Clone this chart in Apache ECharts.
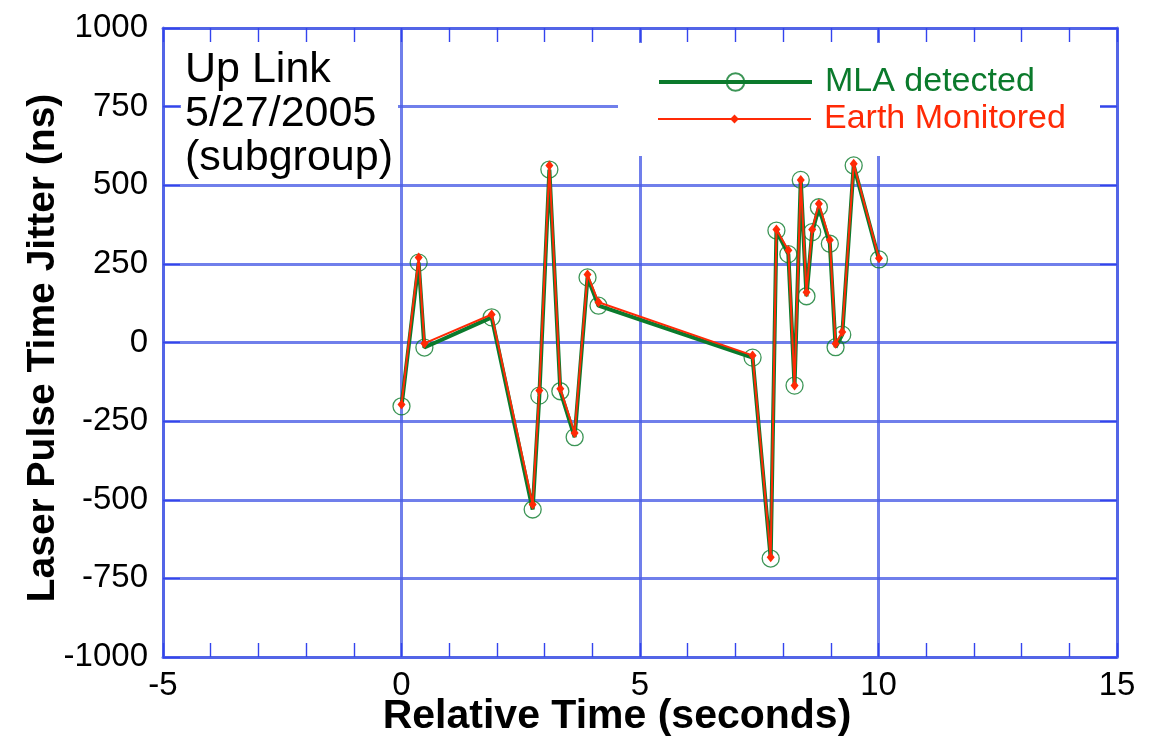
<!DOCTYPE html>
<html>
<head>
<meta charset="utf-8">
<script src="https://cdn.jsdelivr.net/npm/echarts@6/dist/echarts.min.js"></script>
<style>
  html, body { margin: 0; padding: 0; background: #fff; }
  #chart { width: 1163px; height: 747px; }
</style>
</head>
<body>
<div id="chart"></div>
<script>
// Relative time of each pulse (seconds)
const timeSec = [0, 0.36, 0.48, 1.89, 2.75, 2.89, 3.10, 3.33, 3.63, 3.90, 4.13,
  7.36, 7.74, 7.86, 8.11, 8.24, 8.37, 8.49, 8.61, 8.75, 8.98, 9.10, 9.24, 9.48, 10.01];
// Pulse time jitter seen by MLA (ns)
const mlaDetected = [-203, 254, -16, 80, -531, -169, 550, -155, -301, 207, 117,
  -48, -687, 356, 281, -137, 517, 147, 351, 430, 314, -15, 25, 563, 264];
// Pulse time jitter monitored at the ground station (ns)
const earthMonitored = [-197, 270, -3, 89, -515, -153, 563, -147, -288, 216, 128,
  -41, -683, 359, 293, -137, 517, 160, 359, 441, 326, -4, 33, 568, 268];

const xTicks = { min: -5, max: 15, step: 5 };
const yTicks = { min: -1000, max: 1000, step: 250 };
const seriesNames = ['MLA detected', 'Earth Monitored'];
const noteLines = ['Up Link', '5/27/2005', '(subgroup)'];
const xTitle = 'Relative Time (seconds)';
const yTitle = 'Laser Pulse Time Jitter (ns)';

const GREEN = '#0b7a2c';
const RED = '#ff2a06';
const BLUE = '#4c5fe6';
const FONT = '"Liberation Sans", Arial, Helvetica, sans-serif';

const gridLine = { color: BLUE, width: 3, type: 'solid', opacity: 0.8 };
const tickLine = { color: '#3344ee', width: 1.4 };

const pair = (xs, ys) => xs.map((x, i) => [x, ys[i]]);
const plain = v => String(v);

const chart = echarts.init(document.getElementById('chart'), null, { renderer: 'canvas' });

const xAxisBase = {
  type: 'value', min: xTicks.min, max: xTicks.max, interval: xTicks.step,
  axisLine: { show: true, onZero: false, lineStyle: gridLine },
  axisTick: { show: true, inside: true, length: 14, lineStyle: tickLine },
  minorTick: { show: true, splitNumber: 5, length: 14, lineStyle: tickLine },
  splitLine: { show: false }
};
const yAxisBase = {
  type: 'value', min: yTicks.min, max: yTicks.max, interval: yTicks.step,
  axisLine: { show: true, onZero: false, lineStyle: gridLine },
  axisTick: { show: true, inside: true, length: 17, lineStyle: tickLine },
  splitLine: { show: false }
};

chart.setOption({
  backgroundColor: '#ffffff',
  animation: false,
  grid: { left: 163, right: 46, top: 28, bottom: 90, containLabel: false },
  xAxis: [
    Object.assign({}, xAxisBase, {
      position: 'bottom',
      splitLine: { show: true, lineStyle: gridLine },
      axisLabel: { show: true, margin: 12, fontSize: 33, color: '#000', fontFamily: FONT, formatter: plain }
    }),
    Object.assign({}, xAxisBase, { position: 'top', axisLabel: { show: false } })
  ],
  yAxis: [
    Object.assign({}, yAxisBase, {
      position: 'left',
      splitLine: { show: true, lineStyle: gridLine },
      axisLabel: { show: true, margin: 15, fontSize: 33, color: '#000', fontFamily: FONT, formatter: plain }
    }),
    Object.assign({}, yAxisBase, { position: 'right', axisLabel: { show: false } })
  ],
  legend: [
    {
      data: [seriesNames[0]],
      left: 652, top: 60, orient: 'vertical', z: 5,
      itemWidth: 153, itemHeight: 22,
      lineStyle: { width: 4, color: GREEN },
      textStyle: { fontSize: 34, color: GREEN, fontFamily: FONT, padding: [0, 0, 0, 8] }
    },
    {
      data: [seriesNames[1]],
      left: 652, top: 97, orient: 'vertical', z: 5,
      itemWidth: 153, itemHeight: 11,
      lineStyle: { width: 2, color: RED },
      textStyle: { fontSize: 34, color: RED, fontFamily: FONT, padding: [0, 0, 0, 8] }
    }
  ],
  graphic: [
    // white boxes behind the note and the legend
    { type: 'rect', z: 1, shape: { x: 181, y: 43, width: 217, height: 139 }, style: { fill: '#fff' } },
    { type: 'rect', z: 1, shape: { x: 618, y: 43, width: 482, height: 113 }, style: { fill: '#fff' } },
    {
      type: 'text', left: 185, top: 48, z: 3,
      style: { text: noteLines.join('\n'), font: '43px ' + FONT, lineHeight: 44, fill: '#000' }
    },
    {
      type: 'text', x: 617, y: 717,
      style: { text: xTitle, font: 'bold 41px ' + FONT, fill: '#000', textAlign: 'center', textVerticalAlign: 'middle' }
    },
    {
      type: 'text', x: 43, y: 348, rotation: Math.PI / 2,
      style: { text: yTitle, font: 'bold 39px ' + FONT, fill: '#000', textAlign: 'center', textVerticalAlign: 'middle' }
    }
  ],
  series: [
    {
      name: seriesNames[0], type: 'line', data: pair(timeSec, mlaDetected),
      symbol: 'circle', symbolSize: 17, z: 2,
      lineStyle: { color: GREEN, width: 4 },
      itemStyle: { color: 'rgba(255,255,255,0)', borderColor: 'rgba(11,122,44,0.8)', borderWidth: 1.3 }
    },
    {
      name: seriesNames[1], type: 'line', data: pair(timeSec, earthMonitored),
      symbol: 'diamond', symbolSize: [8, 10], z: 3,
      lineStyle: { color: RED, width: 2 },
      itemStyle: { color: RED }
    }
  ]
});
</script>
</body>
</html>
